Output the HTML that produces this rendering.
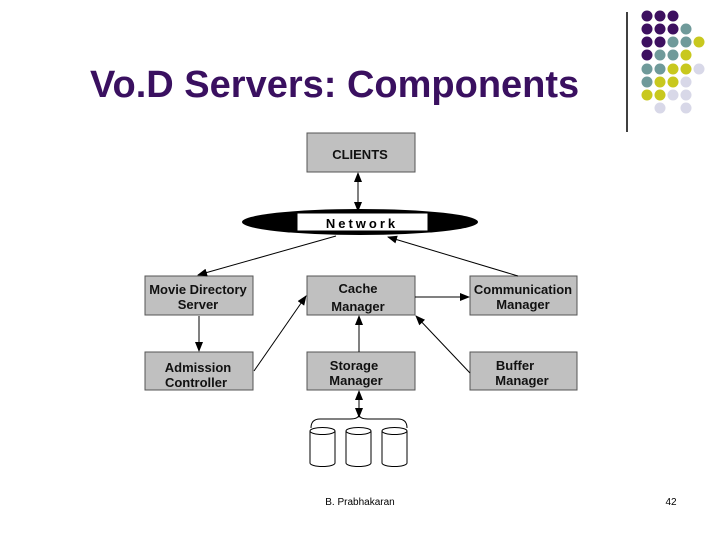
<!DOCTYPE html>
<html><head><style>
body{margin:0;width:720px;height:540px;background:#fff;overflow:hidden;font-family:"Liberation Sans",sans-serif}
</style></head><body>
<svg width="720" height="540" xmlns="http://www.w3.org/2000/svg" font-family="Liberation Sans, sans-serif">
<defs><marker id="a" markerWidth="10" markerHeight="8" refX="9" refY="4" orient="auto" markerUnits="userSpaceOnUse"><path d="M0,0L10,4L0,8z" fill="#000"/></marker>
<marker id="b" markerWidth="10" markerHeight="8" refX="1" refY="4" orient="auto" markerUnits="userSpaceOnUse"><path d="M10,0L0,4L10,8z" fill="#000"/></marker></defs>
<text x="90" y="97" font-size="38" font-weight="bold" fill="#3a1060">Vo.D Servers: Components</text>
<line x1="627" y1="12" x2="627" y2="132" stroke="#000" stroke-width="1.5"/>
<g>
<circle cx="647" cy="16" r="5.5" fill="#3d1060"/><circle cx="660" cy="16" r="5.5" fill="#3d1060"/><circle cx="673" cy="16" r="5.5" fill="#3d1060"/>
<circle cx="647" cy="29" r="5.5" fill="#3d1060"/><circle cx="660" cy="29" r="5.5" fill="#3d1060"/><circle cx="673" cy="29" r="5.5" fill="#3d1060"/><circle cx="686" cy="29" r="5.5" fill="#6f9a9a"/>
<circle cx="647" cy="42" r="5.5" fill="#3d1060"/><circle cx="660" cy="42" r="5.5" fill="#3d1060"/><circle cx="673" cy="42" r="5.5" fill="#6f9a9a"/><circle cx="686" cy="42" r="5.5" fill="#6f9a9a"/><circle cx="699" cy="42" r="5.5" fill="#c8c81e"/>
<circle cx="647" cy="55" r="5.5" fill="#3d1060"/><circle cx="660" cy="55" r="5.5" fill="#6f9a9a"/><circle cx="673" cy="55" r="5.5" fill="#6f9a9a"/><circle cx="686" cy="55" r="5.5" fill="#c8c81e"/>
<circle cx="647" cy="69" r="5.5" fill="#6f9a9a"/><circle cx="660" cy="69" r="5.5" fill="#6f9a9a"/><circle cx="673" cy="69" r="5.5" fill="#c8c81e"/><circle cx="686" cy="69" r="5.5" fill="#c8c81e"/><circle cx="699" cy="69" r="5.5" fill="#d8d8e8"/>
<circle cx="647" cy="82" r="5.5" fill="#6f9a9a"/><circle cx="660" cy="82" r="5.5" fill="#c8c81e"/><circle cx="673" cy="82" r="5.5" fill="#c8c81e"/><circle cx="686" cy="82" r="5.5" fill="#d8d8e8"/>
<circle cx="647" cy="95" r="5.5" fill="#c8c81e"/><circle cx="660" cy="95" r="5.5" fill="#c8c81e"/><circle cx="673" cy="95" r="5.5" fill="#d8d8e8"/><circle cx="686" cy="95" r="5.5" fill="#d8d8e8"/>
<circle cx="660" cy="108" r="5.5" fill="#d8d8e8"/><circle cx="686" cy="108" r="5.5" fill="#d8d8e8"/>
</g>
<g fill="#c0c0c0" stroke="#555" stroke-width="1">
<rect x="307" y="133" width="108" height="39"/>
<rect x="145" y="276" width="108" height="39"/><rect x="307" y="276" width="108" height="39"/><rect x="470" y="276" width="107" height="39"/>
<rect x="145" y="352" width="108" height="38"/><rect x="307" y="352" width="108" height="38"/><rect x="470" y="352" width="107" height="38"/>
</g>
<ellipse cx="360" cy="222" rx="118" ry="13" fill="#000"/>
<rect x="297" y="213" width="131" height="18" fill="#fff" stroke="#000"/>
<text x="362" y="228" font-size="13" font-weight="bold" text-anchor="middle" letter-spacing="3">Network</text>
<g font-size="13" font-weight="bold" text-anchor="middle" fill="#111">
<text x="360" y="159">CLIENTS</text>
<text x="198" y="294">Movie Directory</text><text x="198" y="309">Server</text>
<text x="358" y="293">Cache</text><text x="358" y="311">Manager</text>
<text x="523" y="294">Communication</text><text x="523" y="309">Manager</text>
<text x="198" y="372">Admission</text><text x="196" y="387">Controller</text>
<text x="354" y="370">Storage</text><text x="356" y="385">Manager</text>
<text x="515" y="370">Buffer</text><text x="522" y="385">Manager</text>
</g>
<g stroke="#000" stroke-width="1" fill="none">
<line x1="358" y1="173" x2="358" y2="211" marker-start="url(#b)" marker-end="url(#a)"/>
<line x1="336" y1="236" x2="198" y2="275" marker-end="url(#a)"/>
<line x1="518" y1="276" x2="388" y2="237" marker-end="url(#a)"/>
<line x1="415" y1="297" x2="469" y2="297" marker-end="url(#a)"/>
<line x1="199" y1="316" x2="199" y2="351" marker-end="url(#a)"/>
<line x1="254" y1="371" x2="306" y2="296" marker-end="url(#a)"/>
<line x1="359" y1="352" x2="359" y2="316" marker-end="url(#a)"/>
<line x1="470" y1="373" x2="416" y2="316" marker-end="url(#a)"/>
<line x1="359" y1="391" x2="359" y2="417" marker-start="url(#b)" marker-end="url(#a)"/>
<path d="M311,428 Q311,419 320,419 L350,419 Q359,419 359,414 Q359,419 368,419 L398,419 Q407,419 407,428"/>
</g>
<g stroke="#000" stroke-width="1" fill="#fff">
<path d="M310,431 L310,463 A12.5,3.5 0 0 0 335,463 L335,431"/><ellipse cx="322.5" cy="431" rx="12.5" ry="3.5"/>
<path d="M346,431 L346,463 A12.5,3.5 0 0 0 371,463 L371,431"/><ellipse cx="358.5" cy="431" rx="12.5" ry="3.5"/>
<path d="M382,431 L382,463 A12.5,3.5 0 0 0 407,463 L407,431"/><ellipse cx="394.5" cy="431" rx="12.5" ry="3.5"/>
</g>
<text x="360" y="505" font-size="10" text-anchor="middle">B. Prabhakaran</text>
<text x="671" y="505" font-size="10" text-anchor="middle">42</text>
</svg>
</body></html>
